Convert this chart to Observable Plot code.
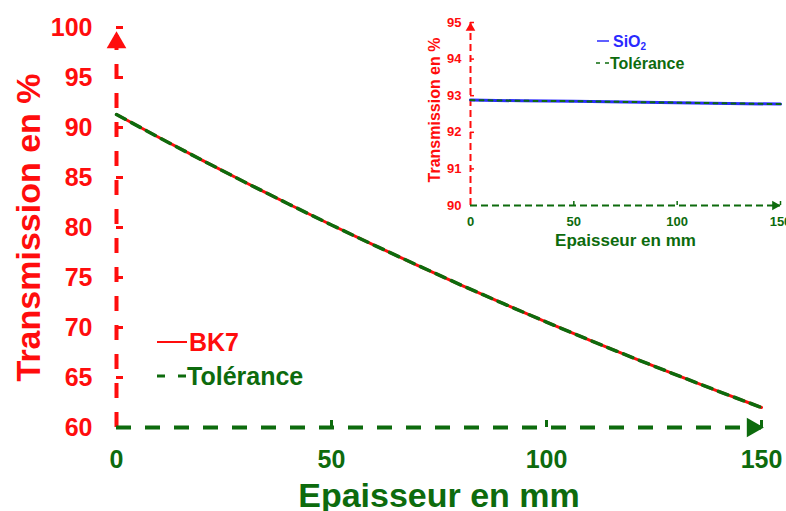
<!DOCTYPE html>
<html><head><meta charset="utf-8">
<script src="https://cdn.jsdelivr.net/npm/d3@7"></script>
<script src="https://cdn.jsdelivr.net/npm/@observablehq/plot@0.6"></script>
<style>
body{margin:0;background:#fff;}
#wrap{position:relative;width:786px;height:511px;overflow:hidden;font-family:"Liberation Sans",Arial,sans-serif;font-weight:bold;}
#main,#inset,.legend{position:absolute;left:0;top:0;}
#inset{left:400px;}
.legend{pointer-events:none;}
</style></head><body>
<div id="wrap"><div id="main"></div><div id="inset"></div>
<svg class="legend" width="786" height="511" id="leg"></svg></div>
<script>
// ---- data ----
const thicknessBK7 = [0,10,20,30,40,50,60,70,80,90,100,110,120,130,140,150];
const transBK7 = [91.3,88.97,86.71,84.5,82.35,80.25,78.21,76.22,74.27,72.38,70.54,68.74,66.99,65.29,63.62,62.0];
const thicknessSiO2 = [0,25,50,75,100,125,150];
const transSiO2 = [92.88,92.86,92.85,92.83,92.81,92.79,92.77];
const xTicks = [0,50,100,150];
const yTicks = [60,65,70,75,80,85,90,95,100];
const insetXTicks = [0,50,100,150];
const insetYTicks = [90,91,92,93,94,95];
const legendMain = ["BK7","Tolérance"];
const legendInset = ["SiO","Tolérance"];
const titles = {x:"Epaisseur en mm", y:"Transmission en %"};

const RED = "#ff0d0d", GREEN = "#0d6b0d", BLUE = "#2a2aff";
const FONT = "Liberation Sans, Arial, sans-serif";

const bk7 = thicknessBK7.map((t,i)=>({t, v: transBK7[i]}));
const sio2 = thicknessSiO2.map((t,i)=>({t, v: transSiO2[i]}));
const xDom = [xTicks[0], xTicks[xTicks.length-1]];
const yDom = [yTicks[0], yTicks[yTicks.length-1]];
const ixDom = [insetXTicks[0], insetXTicks[insetXTicks.length-1]];
const iyDom = [insetYTicks[0], insetYTicks[insetYTicks.length-1]];

const main = Plot.plot({
  width: 786, height: 511,
  marginLeft: 116, marginRight: 25, marginTop: 27, marginBottom: 84,
  style: {fontFamily: FONT, fontWeight: "bold", background: "transparent", overflow: "visible"},
  x: {domain: xDom, axis: null},
  y: {domain: yDom, axis: null},
  marks: [
    Plot.ruleX([xDom[0]], {y1: yDom[0], y2: yDom[1], stroke: RED, strokeWidth: 4, strokeDasharray: "15,14"}),
    Plot.ruleY(yTicks.slice(1), {y: d=>d, x1: xDom[0], x2: xDom[0], insetRight: -7, stroke: RED, strokeWidth: 3}),
    Plot.ruleY([yDom[0]], {x1: xDom[0], x2: xDom[1], stroke: GREEN, strokeWidth: 4, strokeDasharray: "15,14"}),
    Plot.ruleX(xTicks.slice(1), {x: d=>d, y1: yDom[0], y2: yDom[0], insetTop: -7, stroke: GREEN, strokeWidth: 3}),
    Plot.dot([{x: xDom[0], y: yDom[1]}], {x: "x", y: "y", symbol: "triangle", r: 7.3, dy: 15, fill: RED, stroke: null}),
    Plot.dot([{x: xDom[1], y: yDom[0]}], {x: "x", y: "y", symbol: "triangle", r: 7.3, rotate: 90, dx: -9, fill: GREEN, stroke: null}),
    Plot.line(bk7, {x: "t", y: "v", stroke: RED, strokeWidth: 3}),
    Plot.line(bk7, {x: "t", y: "v", stroke: GREEN, strokeWidth: 3.5, strokeDasharray: "10,7"}),
    Plot.text(xTicks, {x: d=>d, y: yDom[0], dy: 32, text: d=>String(d), fill: GREEN, fontSize: 25, fontWeight: "bold", fontFamily: FONT}),
    Plot.text(yTicks, {x: xDom[0], y: d=>d, dx: -24, text: d=>String(d), textAnchor: "end", fill: RED, fontSize: 25, fontWeight: "bold", fontFamily: FONT}),
    Plot.text([titles.x], {frameAnchor: "bottom", dy: 79, lineAnchor: "bottom", textAnchor: "middle", fill: GREEN, fontSize: 34, fontWeight: "bold", fontFamily: FONT}),
    Plot.text([titles.y], {frameAnchor: "left", dx: -77, rotate: -90, lineAnchor: "bottom", textAnchor: "middle", fill: RED, fontSize: 34, fontWeight: "bold", fontFamily: FONT})
  ]
});
document.getElementById("main").appendChild(main);

const inset = Plot.plot({
  width: 386, height: 260,
  marginLeft: 70, marginRight: 6, marginTop: 22, marginBottom: 55,
  style: {fontFamily: FONT, fontWeight: "bold", background: "transparent", overflow: "visible"},
  x: {domain: ixDom, axis: null},
  y: {domain: iyDom, axis: null},
  marks: [
    Plot.ruleX([ixDom[0]], {y1: iyDom[0], y2: iyDom[1], stroke: RED, strokeWidth: 2, strokeDasharray: "7,4"}),
    Plot.ruleY(insetYTicks.slice(1), {y: d=>d, x1: ixDom[0], x2: ixDom[0], insetRight: -4, stroke: RED, strokeWidth: 1.5}),
    Plot.ruleY([iyDom[0]], {x1: ixDom[0], x2: ixDom[1], stroke: GREEN, strokeWidth: 2, strokeDasharray: "7,4"}),
    Plot.ruleX(insetXTicks.slice(1), {x: d=>d, y1: iyDom[0], y2: iyDom[0], insetTop: -4, stroke: GREEN, strokeWidth: 1.5}),
    Plot.dot([{x: ixDom[0], y: iyDom[1]}], {x: "x", y: "y", symbol: "triangle", r: 3.6, dy: 5.5, fill: RED, stroke: null}),
    Plot.dot([{x: ixDom[1], y: iyDom[0]}], {x: "x", y: "y", symbol: "triangle", r: 3.6, rotate: 90, dx: -5.5, fill: GREEN, stroke: null}),
    Plot.line(sio2, {x: "t", y: "v", stroke: BLUE, strokeWidth: 3}),
    Plot.line(sio2, {x: "t", y: "v", stroke: GREEN, strokeWidth: 2, strokeDasharray: "4,5"}),
    Plot.text(insetXTicks, {x: d=>d, y: iyDom[0], dy: 16, text: d=>String(d), fill: GREEN, fontSize: 13, fontWeight: "bold", fontFamily: FONT}),
    Plot.text(insetYTicks, {x: ixDom[0], y: d=>d, dx: -9, text: d=>String(d), textAnchor: "end", fill: RED, fontSize: 13, fontWeight: "bold", fontFamily: FONT}),
    Plot.text([titles.x], {frameAnchor: "bottom", dy: 40, lineAnchor: "bottom", textAnchor: "middle", fill: GREEN, fontSize: 17, fontWeight: "bold", fontFamily: FONT}),
    Plot.text([titles.y], {frameAnchor: "left", dx: -31, dy: -4, rotate: -90, lineAnchor: "bottom", textAnchor: "middle", fill: RED, fontSize: 16, fontWeight: "bold", fontFamily: FONT})
  ]
});
document.getElementById("inset").appendChild(inset);

// legends
const leg = d3.select("#leg");
leg.append("line").attr("x1",157).attr("x2",187).attr("y1",342).attr("y2",342).attr("stroke",RED).attr("stroke-width",2);
leg.append("text").attr("x",189).attr("y",351).attr("fill",RED).attr("font-size",25).attr("font-weight","bold").attr("font-family",FONT).text(legendMain[0]);
leg.append("line").attr("x1",157).attr("x2",187).attr("y1",376).attr("y2",376).attr("stroke",GREEN).attr("stroke-width",3).attr("stroke-dasharray","8,13");
leg.append("text").attr("x",187).attr("y",385).attr("fill",GREEN).attr("font-size",25).attr("font-weight","bold").attr("font-family",FONT).text(legendMain[1]);
leg.append("line").attr("x1",597).attr("x2",609).attr("y1",41).attr("y2",41).attr("stroke",BLUE).attr("stroke-width",1.5);
const t1 = leg.append("text").attr("x",613).attr("y",47).attr("fill",BLUE).attr("font-size",16).attr("font-weight","bold").attr("font-family",FONT);
t1.append("tspan").text(legendInset[0]);
t1.append("tspan").attr("font-size",10).attr("dy",3).text("2");
leg.append("line").attr("x1",596).attr("x2",609).attr("y1",63).attr("y2",63).attr("stroke",GREEN).attr("stroke-width",1.5).attr("stroke-dasharray","4,5");
leg.append("text").attr("x",610).attr("y",69).attr("fill",GREEN).attr("font-size",16).attr("font-weight","bold").attr("font-family",FONT).text(legendInset[1]);
</script></body></html>
